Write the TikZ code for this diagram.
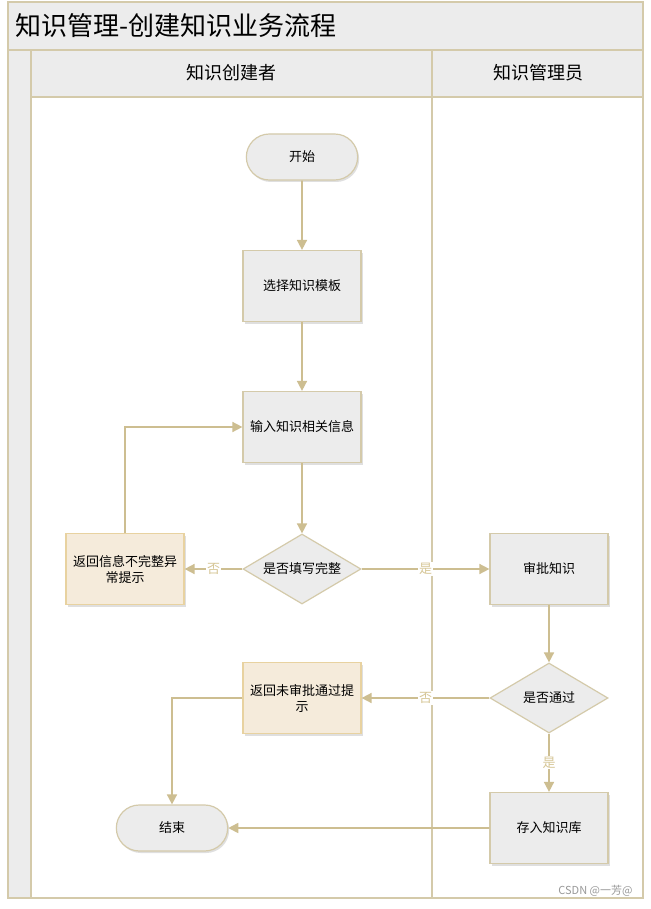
\documentclass[tikz,border=0pt]{standalone}
\usepackage{fontspec}
\setmainfont{Noto Sans CJK SC}
\usetikzlibrary{arrows.meta,positioning,shapes.geometric,shapes.misc,shadows}
\definecolor{kmTan}    {RGB}{205,190,145}
\definecolor{kmFrame}  {RGB}{212,202,170}
\definecolor{kmGreyL}  {RGB}{236,236,236}
\definecolor{kmBeige}  {RGB}{245,235,219}
\definecolor{kmBeigeD} {RGB}{232,210,160}
\definecolor{kmLabel}  {RGB}{214,198,150}

\begin{document}
\begin{tikzpicture}[x=1pt,y=-1pt,
  every node/.style={font=\fontsize{13}{16}\selectfont},
  lane/.style={draw=kmFrame,fill=kmGreyL,line width=1.2pt},
  proc/.style={draw=kmFrame,fill=kmGreyL,line width=1.2pt,minimum width=118pt,
               minimum height=71pt,align=center,
               drop shadow={shadow xshift=1.5pt,shadow yshift=-2pt,opacity=.25}},
  note/.style={proc,draw=kmBeigeD,fill=kmBeige},
  term/.style={draw=kmFrame,fill=kmGreyL,line width=1.2pt,rounded rectangle,
               minimum width=118pt,minimum height=46pt,
               drop shadow={shadow xshift=1.5pt,shadow yshift=-2pt,opacity=.25}},
  test/.style={draw=kmFrame,fill=kmGreyL,line width=1.2pt,diamond,aspect=1.7,
               inner sep=0pt,minimum width=118pt,minimum height=70pt},
  flow/.style={draw=kmTan,line width=1.6pt,-{Triangle[width=10pt,length=10pt]}},
  lbl/.style={fill=white,text=kmLabel,inner sep=1pt}
]
\useasboundingbox[fill=white] (0,0) rectangle (650,909);

% swimlane frame
\draw[lane] (8,2) rectangle (643,50);
\draw[lane] (8,50) rectangle (31,898);
\draw[lane] (31,50) rectangle (432,97);
\draw[lane] (432,50) rectangle (643,97);
\draw[draw=kmFrame,line width=1.2pt] (31,97) rectangle (643,898);
\draw[draw=kmFrame,line width=1.2pt] (432,97) -- (432,898);
\node[anchor=west,font=\fontsize{26}{30}\selectfont] (title) at (12,26)
  {知识管理-创建知识业务流程};
\node[font=\fontsize{18}{22}\selectfont] (creator) at (231,73) {知识创建者};
\node[font=\fontsize{18}{22}\selectfont] (admin)   at (538,73) {知识管理员};

% steps
\node[term] (start) at (302,157) {开始};
\node[proc] (tmpl)  at (302,286) {选择知识模板};
\node[proc] (input) at (302,427) {输入知识相关信息};
\node[test] (chk)   at (302,569) {是否填写完整};
\node[note] (err)   at (125,569) {返回信息不完整异\\常提示};
\node[proc] (audit) at (549,569) {审批知识};
\node[test] (pass)  at (549,698) {是否通过};
\node[note] (rej)   at (302,698) {返回未审批通过提\\示};
\node[proc] (store) at (549,828) {存入知识库};
\node[term] (end)   at (172,828) {结束};

\draw[flow] (start) -- (tmpl);
\draw[flow] (tmpl) -- (input);
\draw[flow] (input) -- (chk);
\draw[flow] (chk) -- node[lbl]{否} (err);
\draw[flow] (err.north) |- (input.west);
\draw[flow] (chk) -- node[lbl]{是} (audit);
\draw[flow] (audit) -- (pass);
\draw[flow] (pass) -- node[lbl]{否} (rej);
\draw[flow] (pass) -- node[lbl]{是} (store);
\draw[flow] (rej.west) -| (end.north);
\draw[flow] (store) -- (end);

\node[anchor=east,text=black!40,font=\fontsize{11}{13}\selectfont] (mark)
  at (636,891) {CSDN @一芳@};
\end{tikzpicture}
\end{document}
